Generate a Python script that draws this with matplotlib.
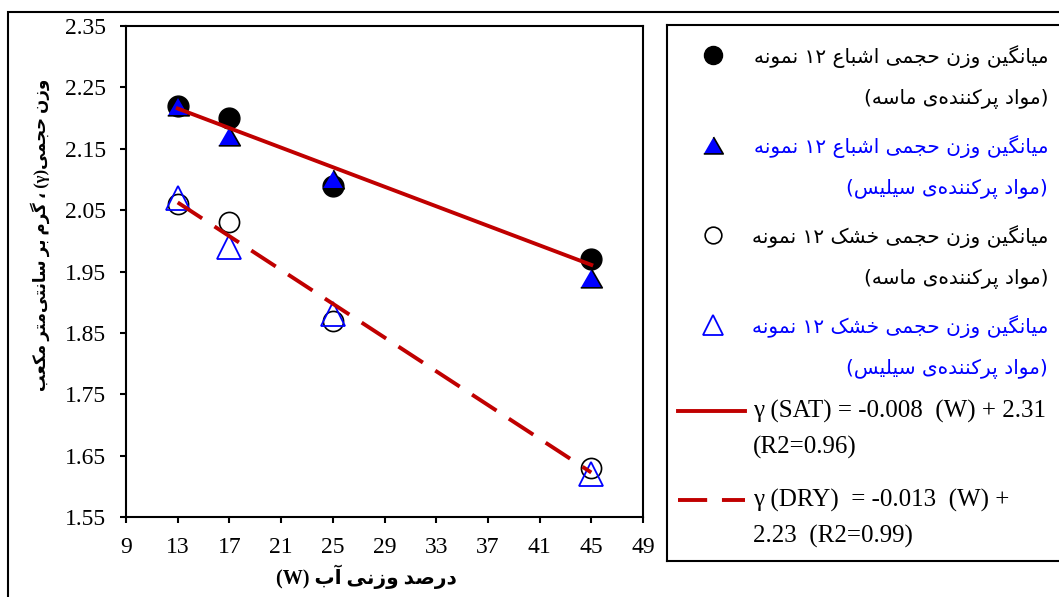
import matplotlib
matplotlib.use('Agg')
import matplotlib.pyplot as plt
from matplotlib.patches import Rectangle
import numpy as np

# water content (W, %) and unit weights (g/cm3)
water = [13, 17, 25, 45]
sat_sand = [2.22, 2.20, 2.09, 1.97]
sat_silica = [2.22, 2.17, 2.10, 1.94]
dry_sand = [2.06, 2.03, 1.87, 1.63]
dry_silica = [2.07, 1.99, 1.88, 1.62]

x_ticks = list(range(9, 50, 4))
y_ticks = [1.55, 1.65, 1.75, 1.85, 1.95, 2.05, 2.15, 2.25, 2.35]

legend_labels = [
    ('میانگین وزن حجمی اشباع ۱۲ نمونه', '(مواد پرکننده‌ی ماسه)'),
    ('میانگین وزن حجمی اشباع ۱۲ نمونه', '(مواد پرکننده‌ی سیلیس)'),
    ('میانگین وزن حجمی خشک ۱۲ نمونه', '(مواد پرکننده‌ی ماسه)'),
    ('میانگین وزن حجمی خشک ۱۲ نمونه', '(مواد پرکننده‌ی سیلیس)'),
]
fit_labels = [
    ('γ (SAT) = -0.008  (W) + 2.31', '(R2=0.96)'),
    ('γ (DRY)  = -0.013  (W) +', '2.23  (R2=0.99)'),
]
x_label = 'درصد وزنی آب (W)'
y_label = 'وزن حجمی(γ) ، گرم بر سانتی‌متر مکعب'

# matplotlib has no arabic shaping, so pick presentation forms by hand
# (isolated, final, initial, medial)
FORMS = {
    'ا': ('\uFE8D', '\uFE8E', None, None),
    'آ': ('\uFE81', '\uFE82', None, None),
    'ب': ('\uFE8F', '\uFE90', '\uFE91', '\uFE92'),
    'پ': ('\uFB56', '\uFB57', '\uFB58', '\uFB59'),
    'ت': ('\uFE95', '\uFE96', '\uFE97', '\uFE98'),
    'ج': ('\uFE9D', '\uFE9E', '\uFE9F', '\uFEA0'),
    'ح': ('\uFEA1', '\uFEA2', '\uFEA3', '\uFEA4'),
    'خ': ('\uFEA5', '\uFEA6', '\uFEA7', '\uFEA8'),
    'د': ('\uFEA9', '\uFEAA', None, None),
    'ر': ('\uFEAD', '\uFEAE', None, None),
    'ز': ('\uFEAF', '\uFEB0', None, None),
    'س': ('\uFEB1', '\uFEB2', '\uFEB3', '\uFEB4'),
    'ش': ('\uFEB5', '\uFEB6', '\uFEB7', '\uFEB8'),
    'ص': ('\uFEB9', '\uFEBA', '\uFEBB', '\uFEBC'),
    'ع': ('\uFEC9', '\uFECA', '\uFECB', '\uFECC'),
    '\u06A9': ('\uFB8E', '\uFB8F', '\uFB90', '\uFB91'),
    'گ': ('\uFB92', '\uFB93', '\uFB94', '\uFB95'),
    'ل': ('\uFEDD', '\uFEDE', '\uFEDF', '\uFEE0'),
    'م': ('\uFEE1', '\uFEE2', '\uFEE3', '\uFEE4'),
    'ن': ('\uFEE5', '\uFEE6', '\uFEE7', '\uFEE8'),
    'ه': ('\uFEE9', '\uFEEA', '\uFEEB', '\uFEEC'),
    'و': ('\uFEED', '\uFEEE', None, None),
    '\u06CC': ('\uFBFC', '\uFBFD', '\uFBFE', '\uFBFF'),
}


def shape(s):
    s = s.replace('\u064A', '\u06CC').replace('\u0643', '\u06A9')
    out = []
    for i, ch in enumerate(s):
        f = FORMS.get(ch)
        if f is None:
            out.append(ch)
            continue
        prev = s[i - 1] if i > 0 else ''
        nxt = s[i + 1] if i + 1 < len(s) else ''
        jp = prev in FORMS and FORMS[prev][2] is not None
        jn = f[2] is not None and nxt in FORMS
        out.append(f[3] if jp and jn else f[1] if jp else f[2] if jn else f[0])
    return ''.join(out).replace('\u200c', '')


def visual(s):
    runs = []
    for ch in shape(s):
        ltr = (ch.isascii() and ch.isalnum()) or '\u06F0' <= ch <= '\u06F9' or ch == 'γ'
        if runs and ltr and runs[-1][0]:
            runs[-1][1] += ch
        else:
            runs.append([ltr, ch])
    swap = {'(': ')', ')': '('}
    return ''.join(r[1] if r[0] else swap.get(r[1], r[1]) for r in reversed(runs))


serif = ['Liberation Serif', 'DejaVu Sans']
red = '#C00000'
blue = '#0000FF'
tri = [(-1, -0.866), (1, -0.866), (0, 0.866)]

fig = plt.figure(figsize=(10.59, 5.97), dpi=100)
W, H = 1059, 597

# outer frame of the picture
fig.patches.append(Rectangle((8 / W, -0.1), 1.2, 1 - 12 / H + 0.1, transform=fig.transFigure,
                             fill=False, ec='black', lw=1.5))

ax = fig.add_axes([126 / W, 1 - 517 / H, (643 - 126) / W, (517 - 26) / H])

ax.plot(water, sat_sand, 'o', ms=15, mfc='black', mec='black', zorder=3)
ax.plot(water, sat_silica, ls='none', marker=tri, ms=15.5, mfc=blue, mec='black', mew=1.2, zorder=4)
ax.plot(water, dry_sand, 'o', ms=14.5, mfc='none', mec='black', mew=1.2, zorder=3)
ax.plot(water, dry_silica, '^', ms=17.5, mfc='none', mec=blue, mew=1.3, zorder=4)

# trend lines fitted on the sand series
xs = np.array([min(water), max(water)])
k_sat = np.polyfit(water, sat_sand, 1)
k_dry = np.polyfit(water, dry_sand, 1)
ax.plot(xs, np.polyval(k_sat, xs), color=red, lw=2.8, zorder=5)
ax.plot(xs, np.polyval(k_dry, xs), color=red, lw=2.8, dashes=(7.5, 3.8), zorder=5)

ax.set_xlim(9, 49)
ax.set_ylim(1.55, 2.35)
ax.set_xticks(x_ticks)
ax.set_yticks(y_ticks)
ax.set_yticklabels(['%.2f' % v for v in y_ticks])
ax.tick_params(direction='out', length=4.5, width=1.5, pad=10)
for lab in ax.get_xticklabels() + ax.get_yticklabels():
    lab.set_fontfamily(serif)
    lab.set_fontsize(17)
for sp in ax.spines.values():
    sp.set_linewidth(1.5)

ax.set_xlabel(visual(x_label), family=serif, fontsize=14.5, fontweight='bold', va='center')
ax.xaxis.set_label_coords((366 - 126) / 517, (517 - 577) / 491)
ax.set_ylabel(visual(y_label), family=serif, fontsize=12, fontweight='bold', va='center')
ax.yaxis.set_label_coords((40 - 126) / 517, (517 - 235) / 491)

# legend panel, coordinates in picture pixels
lg = fig.add_axes([667 / W, 1 - 561 / H, (1075 - 667) / W, (561 - 25) / H])
lg.set_xlim(667, 1075)
lg.set_ylim(561, 25)
lg.set_xticks([])
lg.set_yticks([])
for sp in lg.spines.values():
    sp.set_linewidth(1.5)

styles = [
    dict(marker='o', ms=13, mfc='black', mec='black'),
    dict(marker=tri, ms=14, mfc=blue, mec='black', mew=1.2),
    dict(marker='o', ms=12, mfc='none', mec='black', mew=1.2),
    dict(marker='^', ms=14, mfc='none', mec=blue, mew=1.3),
]
colors = ['black', blue, 'black', blue]
for i, (l1, l2) in enumerate(legend_labels):
    y0 = 55 + i * 90
    lg.plot([713], [y0], ls='none', **styles[i])
    lg.text(1048, y0 + 2, visual(l1), ha='right', va='center', fontsize=14.5, color=colors[i])
    lg.text(1048, y0 + 44, visual(l2), ha='right', va='center', fontsize=14.5, color=colors[i])

for i, (l1, l2) in enumerate(fit_labels):
    y0 = 411 + i * 89
    if i == 0:
        lg.plot([678, 745], [y0, y0], color=red, lw=2.8)
    else:
        lg.plot([678, 745], [y0, y0], color=red, lw=2.8, dashes=(7.5, 3.8))
    lg.text(753, y0, l1, ha='left', va='center', family=serif, fontsize=18)
    lg.text(753, y0 + 36, l2, ha='left', va='center', family=serif, fontsize=18)

fig.savefig('out.png', dpi=100)
